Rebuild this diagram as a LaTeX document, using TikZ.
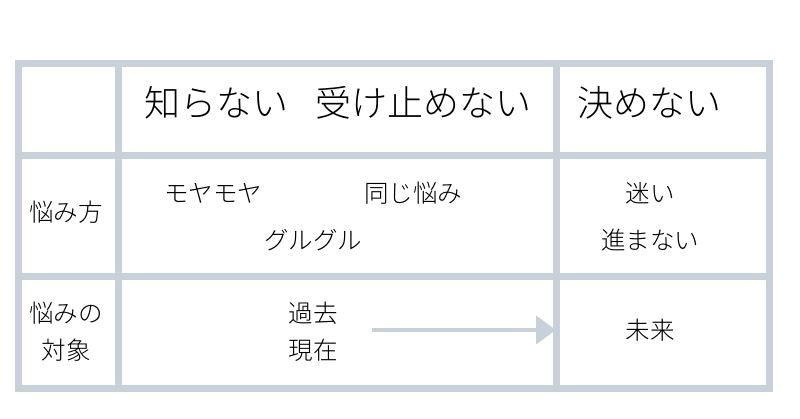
\documentclass[tikz,border=0pt]{standalone}
\usepackage{fontspec}
\newfontfamily\jp{Noto Sans CJK JP Light}
\usetikzlibrary{arrows.meta}
\definecolor{gridc}{RGB}{200,208,217}
\tikzset{line/.style={draw=gridc,line width=7pt},
 big/.style={font=\jp\fontsize{36}{40}\selectfont},
 txt/.style={font=\jp\fontsize{24.5}{28}\selectfont}}
\begin{document}
\begin{tikzpicture}[x=1pt,y=-1pt]
\useasboundingbox (0,0) rectangle (800,419);
\fill[white] (0,0) rectangle (800,419);
\draw[line] (18,64) rectangle (769,388);
\draw[line] (118,64) -- (118,388);
\draw[line] (556,64) -- (556,388);
\draw[line] (18,156) -- (769,156);
\draw[line] (18,277) -- (769,277);
\node[big] (h1) at (338,103) {知らない\hspace{0.75em}受け止めない};
\node[big] (h2) at (649,103) {決めない};
\node[txt] (r1) at (66,212) {悩み方};
\node[txt] (a1) at (213,193) {モヤモヤ};
\node[txt] (a2) at (413,193) {同じ悩み};
\node[txt] (a3) at (313,240) {グルグル};
\node[txt] (b1) at (650,193) {迷い};
\node[txt] (b2) at (650,240) {進まない};
\node[txt] (r2a) at (66,313) {悩みの};
\node[txt] (r2b) at (66,350) {対象};
\node[txt] (c1) at (313,313) {過去};
\node[txt] (c2) at (313,350) {現在};
\node[txt] (d1) at (650,330) {未来};
\coordinate (s) at (372,330);
\coordinate (e) at (556,330);
\draw[draw=gridc,line width=4pt,-{Triangle[length=20pt,width=28pt]}] (s) -- (e);
\end{tikzpicture}
\end{document}
